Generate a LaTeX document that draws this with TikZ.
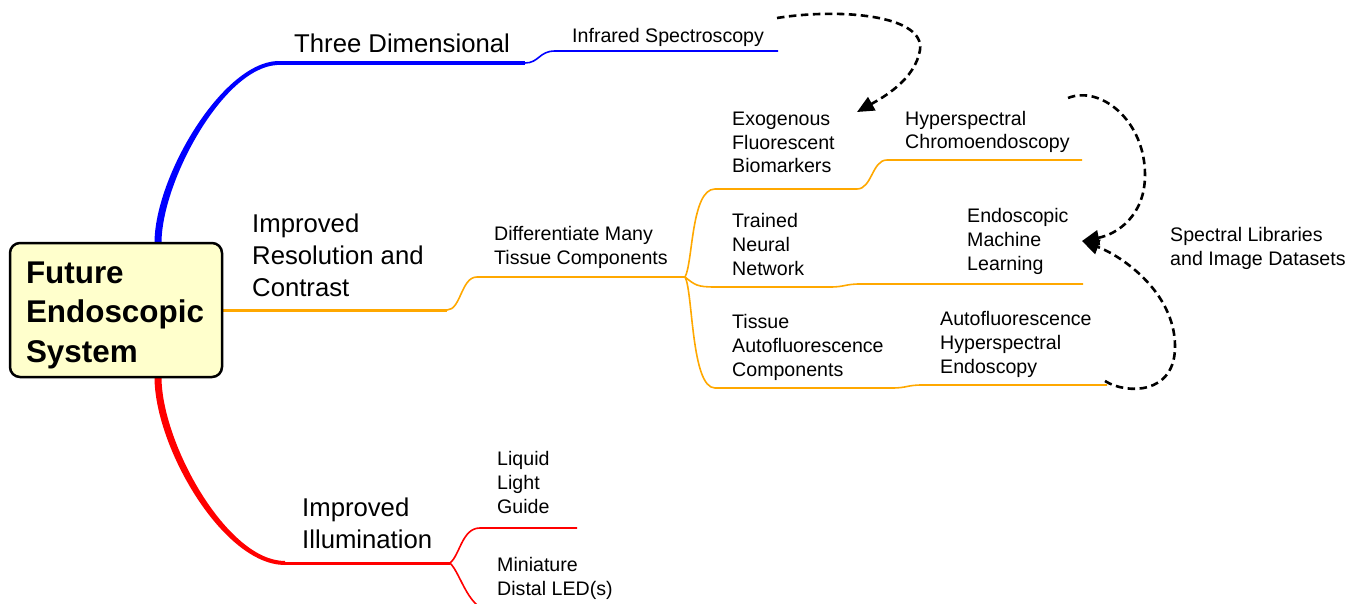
\documentclass[tikz,border=0pt]{standalone}
\usepackage{fontspec}
\setmainfont{Liberation Sans}
\usetikzlibrary{arrows.meta}
\definecolor{branchblue}{RGB}{0,0,255}
\definecolor{branchorange}{RGB}{255,168,0}
\definecolor{branchred}{RGB}{255,0,0}
\definecolor{rootfill}{RGB}{255,255,204}
% multi-line labels are placed by the baseline of their last line
\tikzset{
  big/.style={anchor=base west, inner sep=0pt, align=left,
    font=\fontsize{25.7}{32}\selectfont},
  small/.style={anchor=base west, inner sep=0pt, align=left,
    font=\fontsize{19.6}{23.7}\selectfont},
  rootbox/.style={draw=black, line width=2.5pt, fill=rootfill,
    rounded corners=10pt, text width=180pt, inner xsep=16pt,
    minimum height=134pt, align=left,
    font=\fontsize{31.4}{39.5}\selectfont\bfseries},
  thinline/.style={line width=1.6pt},
  link/.style={line width=2.6pt, dash pattern=on 7.5pt off 4.5pt,
    -{Triangle[length=17pt,width=15pt]}}
}
\begin{document}
\begin{tikzpicture}[x=1pt,y=-1pt]
\useasboundingbox (0,0) rectangle (1359,604);
\clip (0,0) rectangle (1359,604);

% branch points
\coordinate (rootTop)    at (158,243);
\coordinate (rootRight)  at (221,310);
\coordinate (rootBottom) at (158,377);
\coordinate (tdBend)  at (277,63);
\coordinate (tdEnd)   at (525,63);
\coordinate (irStart) at (555,51);
\coordinate (irEnd)   at (778,51);
\coordinate (resEnd)  at (447,310);
\coordinate (dmStart) at (477,277);
\coordinate (hub)     at (685,277);
\coordinate (exStart) at (715,189);
\coordinate (exEnd)   at (857,189);
\coordinate (hcStart) at (887,160);
\coordinate (hcEnd)   at (1082,160);
\coordinate (tnStart) at (715,287);
\coordinate (tnEnd)   at (830,287);
\coordinate (mlStart) at (860,284);
\coordinate (mlEnd)   at (1083,284);
\coordinate (taStart) at (715,388);
\coordinate (taEnd)   at (892,388);
\coordinate (ahStart) at (922,385);
\coordinate (ahEnd)   at (1107,385);
\coordinate (ilBend)  at (285,563);
\coordinate (ilEnd)   at (450,563);
\coordinate (lgStart) at (480,528);
\coordinate (lgEnd)   at (577,528);
\coordinate (ledStart) at (495,612);
\coordinate (ledEnd)   at (600,612);

% blue branch: tapered sweep, then straight run
\fill[branchblue] (154.5,243) .. controls (154.5,178) and (221,64) .. (277,61)
  -- (277,65) .. controls (223,68) and (161.5,182) .. (161.5,243) -- cycle;
\draw[branchblue, line width=4pt] (tdBend) -- (tdEnd);
\draw[branchblue, thinline] (tdEnd) .. controls +(14,0) and +(-16,0) .. (irStart) -- (irEnd);

% orange branch
\draw[branchorange, line width=3pt] (rootRight) -- (resEnd);
\draw[branchorange, thinline] (resEnd) .. controls +(14,0) and +(-16,0) .. (dmStart) -- (hub);
\draw[branchorange, thinline] (hub) .. controls +(8,-14) and +(-24,0) .. (exStart) -- (exEnd);
\draw[branchorange, thinline] (exEnd) .. controls +(15,0) and +(-15,0) .. (hcStart) -- (hcEnd);
\draw[branchorange, thinline] (hub) .. controls +(10,8) and +(-18,0) .. (tnStart) -- (tnEnd);
\draw[branchorange, thinline] (tnEnd) .. controls +(15,0) and +(-15,0) .. (mlStart) -- (mlEnd);
\draw[branchorange, thinline] (hub) .. controls +(8,14) and +(-24,0) .. (taStart) -- (taEnd);
\draw[branchorange, thinline] (taEnd) .. controls +(15,0) and +(-15,0) .. (ahStart) -- (ahEnd);

% red branch
\fill[branchred] (154.5,377) .. controls (154.5,447) and (223,565) .. (285,565)
  -- (285,561) .. controls (227,561) and (161.5,443) .. (161.5,377) -- cycle;
\draw[branchred, line width=3pt] (ilBend) -- (ilEnd);
\draw[branchred, thinline] (ilEnd) .. controls +(10,-8) and +(-18,0) .. (lgStart) -- (lgEnd);
\draw[branchred, thinline] (ilEnd) .. controls +(12,12) and +(-27,0) .. (ledStart) -- (ledEnd);

% root
\node[rootbox] (root) at (116,310) {\rule{0pt}{31.6pt}Future\\Endoscopic\\System};

% labels
\node[big]   (td)  at (294,53)  {Three Dimensional};
\node[small] (ir)  at (572,43)  {Infrared Spectroscopy};
\node[big]   (res) at (252,296) {Improved\\Resolution and\\Contrast};
\node[small] (dm)  at (494,264) {Differentiate Many\\Tissue Components};
\node[small] (ex)  at (732,173) {Exogenous\\Fluorescent\\Biomarkers};
\node[small] (hc)  at (905,149) {Hyperspectral\\Chromoendoscopy};
\node[small] (tn)  at (732,275) {Trained\\Neural\\Network};
\node[small] (ml)  at (967,270) {Endoscopic\\Machine\\Learning};
\node[small] (ta)  at (732,376) {Tissue\\Autofluorescence\\Components};
\node[small] (ah)  at (940,373) {Autofluorescence\\Hyperspectral\\Endoscopy};
\node[small] (sl)  at (1170,265) {Spectral Libraries\\and Image Datasets};
\node[big]   (il)  at (302,548) {Improved\\Illumination};
\node[small] (lg)  at (497,513) {Liquid\\Light\\Guide};
\node[small] (led) at (497,595) {Miniature\\Distal LED(s)};

% dashed links
\coordinate (irLink)  at (777,18);
\coordinate (exTip)   at (857,112);
\coordinate (hcLink)  at (1068,98);
\coordinate (mlTip)   at (1082,241);
\coordinate (ahLink)  at (1105,381);
\draw[link] (irLink) .. controls (840,8) and (925,15) .. (920,50)
  .. controls (915,80) and (882,98) .. (exTip);
\draw[link] (hcLink) .. controls (1100,85) and (1145,120) .. (1145,175)
  .. controls (1145,215) and (1118,234) .. (mlTip);
\draw[link] (ahLink) .. controls (1125,394) and (1176,396) .. (1175,345)
  .. controls (1174,292) and (1122,256) .. (mlTip);
\end{tikzpicture}
\end{document}
